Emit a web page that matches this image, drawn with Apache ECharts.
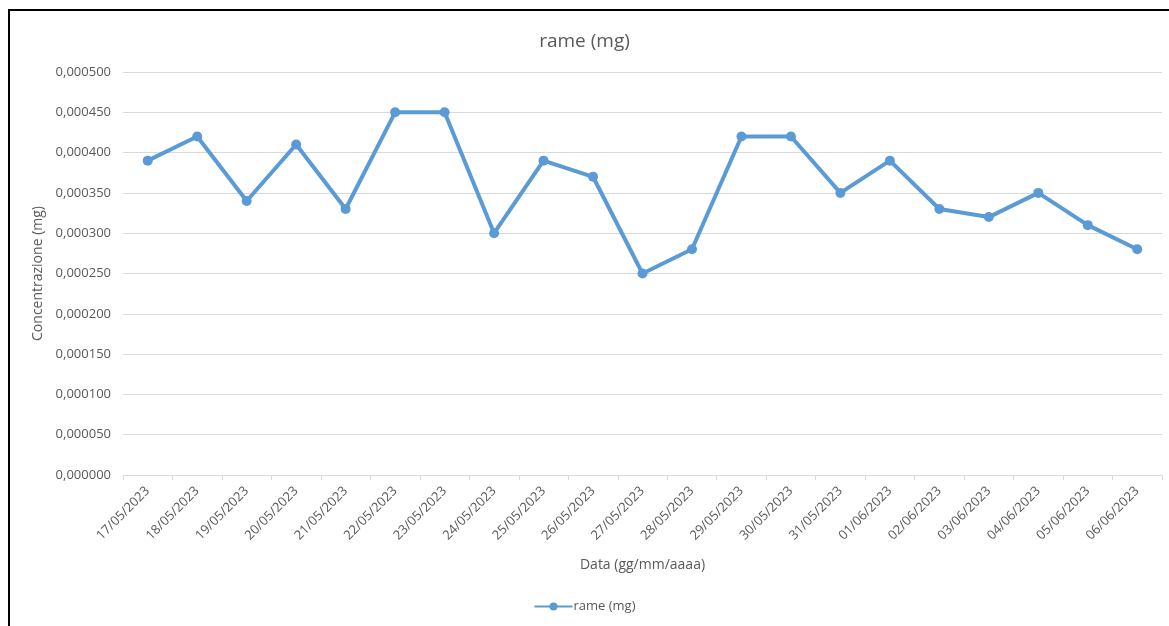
<!DOCTYPE html>
<html><head><meta charset="utf-8">
<script src="https://cdn.jsdelivr.net/npm/echarts@6/dist/echarts.min.js"></script>
<style>
html,body{margin:0;padding:0;background:#fff;}
#frame{position:absolute;left:8px;top:9px;width:1169px;height:626px;border-left:2px solid #000;border-top:2px solid #000;}
#c{position:absolute;left:0;top:0;width:1169px;height:626px;}
</style></head>
<body><div id="frame"></div><div id="c"></div>
<script>
const categories = ["17/05/2023","18/05/2023","19/05/2023","20/05/2023","21/05/2023","22/05/2023","23/05/2023","24/05/2023","25/05/2023","26/05/2023","27/05/2023","28/05/2023","29/05/2023","30/05/2023","31/05/2023","01/06/2023","02/06/2023","03/06/2023","04/06/2023","05/06/2023","06/06/2023"];
const rame = [0.00039,0.00042,0.00034,0.00041,0.00033,0.00045,0.00045,0.00030,0.00039,0.00037,0.00025,0.00028,0.00042,0.00042,0.00035,0.00039,0.00033,0.00032,0.00035,0.00031,0.00028];
const seriesName = "rame (mg)";
const chart = echarts.init(document.getElementById('c'));
const font = "'Open Sans', sans-serif";
chart.setOption({
  animation:false,
  textStyle:{fontFamily:font},
  title:{text:"rame (mg)",left:'center',top:27,textStyle:{fontFamily:font,fontSize:19,fontWeight:'normal',color:'#595959'}},
  grid:{left:123,right:7,top:72,bottom:151,containLabel:false},
  legend:{bottom:8,left:'center',itemWidth:38,itemHeight:10,itemGap:2,textStyle:{fontFamily:font,fontSize:13,color:'#595959',padding:[0,0,0,-4]},data:[seriesName]},
  xAxis:{type:'category',data:categories,boundaryGap:true,
    name:"Data (gg/mm/aaaa)",nameLocation:'middle',nameGap:83,nameTextStyle:{fontFamily:font,fontSize:14,color:'#595959'},
    axisLine:{lineStyle:{color:'#d9d9d9',width:1}},
    axisTick:{show:true,alignWithLabel:false,length:5,lineStyle:{color:'#d9d9d9'}},
    axisLabel:{rotate:45,interval:0,fontFamily:font,fontSize:13,color:'#595959',margin:14}},
  yAxis:{type:'value',min:0,max:0.0005,interval:0.00005,
    name:"Concentrazione (mg)",nameLocation:'middle',nameGap:72,nameRotate:90,nameTextStyle:{fontFamily:font,fontSize:14,color:'#595959'},
    axisLine:{show:false},axisTick:{show:false},
    splitLine:{lineStyle:{color:'#d9d9d9',width:1}},
    axisLabel:{fontFamily:font,fontSize:13,color:'#595959',margin:12,formatter:v=>v.toFixed(6).replace('.',',')}},
  series:[{name:seriesName,type:'line',data:rame,symbol:'circle',symbolSize:10,
    lineStyle:{color:'#5b9bd5',width:4},itemStyle:{color:'#5b9bd5'}}]
});
</script></body></html>
